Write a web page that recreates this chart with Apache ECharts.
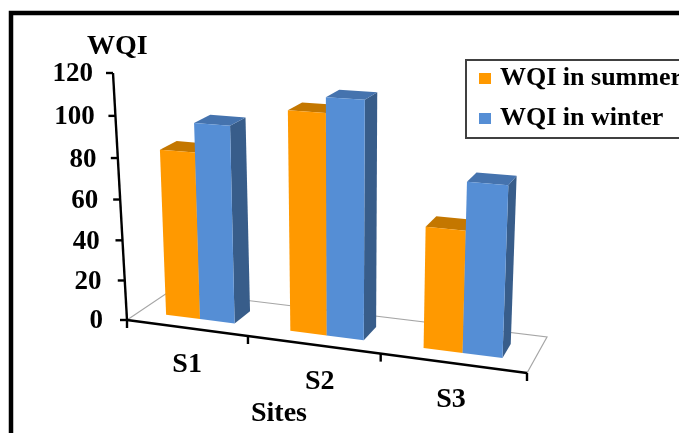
<!DOCTYPE html>
<html>
<head>
<meta charset="utf-8">
<style>html,body{margin:0;padding:0;background:#fff;overflow:hidden}#c{width:679px;height:433px}</style>
<script src="https://cdn.jsdelivr.net/npm/echarts@6/dist/echarts.min.js"></script>
</head>
<body>
<div id="c"></div>
<script>
const categories = ['S1', 'S2', 'S3'];
const summer = [82, 105, 57];
const winter = [96, 112, 79];
const yTicks = [0, 20, 40, 60, 80, 100, 120];
const seriesNames = ['WQI in summer', 'WQI in winter'];

const FONT = '"Liberation Serif", "Times New Roman", serif';

// Perspective planes given by their corners, bottom then top.
const axisPlane = quad([127, 320], [527, 373], [534, 89], [113, 73]);
const barFront = quad([127, 320], [529, 373], [540, 98], [116.5, 73]);
const backPlane = quad([170, 291], [547, 337], [558, 80], [159.5, 55]);
const DEPTH = [0.3, 0.7];
const BAR = 0.28;
const CATEGORY_LABEL_SHIFT = [0, 6, -2];

function quad(p0, p1, p2, p3) {
  const dx1 = p1[0] - p2[0], dx2 = p3[0] - p2[0], sx = p0[0] - p1[0] + p2[0] - p3[0];
  const dy1 = p1[1] - p2[1], dy2 = p3[1] - p2[1], sy = p0[1] - p1[1] + p2[1] - p3[1];
  const den = dx1 * dy2 - dx2 * dy1;
  const g = (sx * dy2 - dx2 * sy) / den, h = (dx1 * sy - sx * dy1) / den;
  const a = p1[0] - p0[0] + g * p1[0], b = p3[0] - p0[0] + h * p3[0];
  const d = p1[1] - p0[1] + g * p1[1], e = p3[1] - p0[1] + h * p3[1];
  return (s, t) => {
    const w = g * s + h * t + 1;
    return [(a * s + b * t + p0[0]) / w, (d * s + e * t + p0[1]) / w];
  };
}

// Grid pixel to picture pixel on one plane.
function onPlane(params, plane, px, py) {
  const r = params.coordSys;
  return plane((px - r.x) / r.width, (r.y + r.height - py) / r.height);
}

// Grid pixel plus depth to picture pixel between two planes.
function project(params, near, far, px, py, depth) {
  const f = onPlane(params, near, px, py), b = onPlane(params, far, px, py);
  return [f[0] + (b[0] - f[0]) * depth, f[1] + (b[1] - f[1]) * depth];
}

function barItem(colors, slot) {
  return function (params, api) {
    const band = api.size([1, 0])[0];
    const base = api.coord([api.value(0), 0]);
    const top = api.coord([api.value(0), api.value(1)]);
    const x0 = base[0] + band * (slot === 0 ? -BAR : 0);
    const x1 = x0 + band * BAR;
    const P = (x, y, d) => project(params, barFront, backPlane, x, y, d);
    const [d0, d1] = DEPTH;
    return {
      type: 'group', children: [
        { type: 'polygon', shape: { points: [P(x1, base[1], d0), P(x1, base[1], d1), P(x1, top[1], d1), P(x1, top[1], d0)] }, style: { fill: colors[2] } },
        { type: 'polygon', shape: { points: [P(x0, top[1], d0), P(x1, top[1], d0), P(x1, top[1], d1), P(x0, top[1], d1)] }, style: { fill: colors[1] } },
        { type: 'polygon', shape: { points: [P(x0, base[1], d0), P(x1, base[1], d0), P(x1, top[1], d0), P(x0, top[1], d0)] }, style: { fill: colors[0] } }
      ]
    };
  };
}

function floorItem(params) {
  const r = params.coordSys, L = r.x, R = r.x + r.width, B = r.y + r.height;
  const a = onPlane(params, axisPlane, L, B), b = onPlane(params, backPlane, L, B);
  const c = onPlane(params, backPlane, R, B), d = onPlane(params, axisPlane, R, B);
  return { type: 'polyline', shape: { points: [a, b, c, d] }, style: { fill: null, stroke: '#a6a6a6', lineWidth: 1.2 } };
}

function axesItem(params, api) {
  const r = params.coordSys, L = r.x, R = r.x + r.width, B = r.y + r.height;
  const A = (x, y) => onPlane(params, axisPlane, x, y);
  const line = (p, q) => ({ type: 'line', shape: { x1: p[0], y1: p[1], x2: q[0], y2: q[1] }, style: { stroke: '#000', lineWidth: 2.4 } });
  const children = [line(A(L, B), A(R, B)), line(A(L, B), A(L, r.y))];
  yTicks.forEach(v => {
    const p = A(L, api.coord([0, v])[1]);
    children.push(line(p, [p[0] - 7, p[1]]));
    children.push({
      type: 'text',
      style: { x: p[0] - 24 + 4 * v / 120, y: p[1] + 1.5, text: String(v), textAlign: 'right', textVerticalAlign: 'middle', font: 'bold 27px ' + FONT, fill: '#000' }
    });
  });
  for (let i = 0; i <= categories.length; i++) {
    const p = A(L + r.width * i / categories.length, B);
    children.push(line(p, [p[0], p[1] + 8]));
  }
  categories.forEach((name, i) => {
    const c = api.coord([i, 0]);
    const p = A(c[0], c[1]);
    children.push({
      type: 'text',
      style: { x: p[0] + 1 + CATEGORY_LABEL_SHIFT[i], y: p[1] + 37, text: name, textAlign: 'center', textVerticalAlign: 'middle', font: 'bold 28px ' + FONT, fill: '#000' }
    });
  });
  return { type: 'group', children };
}

const chart = echarts.init(document.getElementById('c'), null, { renderer: 'canvas' });
chart.setOption({
  animation: false,
  backgroundColor: '#fff',
  grid: { left: 127, top: 73, width: 400, height: 247 },
  xAxis: { type: 'category', data: categories, axisLine: { show: false }, axisTick: { show: false }, axisLabel: { show: false }, splitLine: { show: false } },
  yAxis: { type: 'value', min: 0, max: 120, interval: 20, axisLine: { show: false }, axisTick: { show: false }, axisLabel: { show: false }, splitLine: { show: false } },
  legend: {
    data: seriesNames, orient: 'vertical', left: 466, top: 60, icon: 'rect',
    itemWidth: 12, itemHeight: 11, itemGap: 11, padding: [4, 30, 5, 13],
    borderColor: '#404040', borderWidth: 2, backgroundColor: '#fff',
    selectedMode: false,
    textStyle: { fontFamily: FONT, fontWeight: 'bold', fontSize: 26, lineHeight: 29, color: '#000', padding: [0, 0, 0, 4] }
  },
  graphic: [
    { type: 'polyline', silent: true, shape: { points: [[11, 433], [11, 13], [679, 13]] }, style: { fill: null, stroke: '#000', lineWidth: 4.5 } },
    { type: 'text', silent: true, left: 87, top: 33, style: { text: 'WQI', font: 'bold 28px ' + FONT, fill: '#000' } },
    { type: 'text', silent: true, left: 251, top: 400, style: { text: 'Sites', font: 'bold 28px ' + FONT, fill: '#000' } }
  ],
  series: [
    { type: 'custom', name: 'floor', data: [[0]], renderItem: floorItem, silent: true, z: 1 },
    { type: 'custom', name: 'axes', data: [[0]], renderItem: axesItem, silent: true, z: 2 },
    { type: 'custom', name: seriesNames[0], itemStyle: { color: '#ff9900' }, data: summer.map((v, i) => [i, v]), encode: { x: 0, y: 1 }, renderItem: barItem(['#ff9900', '#c47700', '#c47700'], 0), z: 3 },
    { type: 'custom', name: seriesNames[1], itemStyle: { color: '#558ed5' }, data: winter.map((v, i) => [i, v]), encode: { x: 0, y: 1 }, renderItem: barItem(['#558ed5', '#4573ae', '#385d8a'], 1), z: 4 }
  ]
});
</script>
</body>
</html>
